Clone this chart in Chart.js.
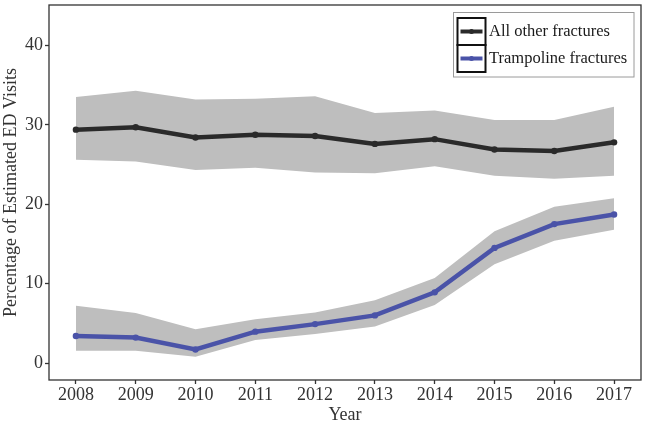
<!DOCTYPE html>
<html>
<head>
<meta charset="utf-8">
<script src="https://cdn.jsdelivr.net/npm/chart.js@4"></script>
<style>
  html, body { margin: 0; padding: 0; background: #fff; }
  #wrap { width: 646px; height: 426px; }
</style>
</head>
<body>
<div id="wrap"><canvas id="chart" width="646" height="426"></canvas></div>
<script>
// values
const years = [2008, 2009, 2010, 2011, 2012, 2013, 2014, 2015, 2016, 2017];
const allOther = [29.4, 29.7, 28.4, 28.75, 28.6, 27.6, 28.2, 26.9, 26.7, 27.8];
const allOtherHigh = [33.5, 34.3, 33.2, 33.3, 33.6, 31.5, 31.8, 30.6, 30.6, 32.3];
const allOtherLow = [25.6, 25.4, 24.3, 24.6, 24.0, 23.9, 24.8, 23.6, 23.2, 23.6];
const trampoline = [3.4, 3.2, 1.7, 3.95, 4.9, 6.0, 8.9, 14.5, 17.5, 18.7];
const trampolineHigh = [7.2, 6.3, 4.25, 5.5, 6.35, 7.9, 10.7, 16.6, 19.7, 20.75];
const trampolineLow = [1.55, 1.55, 0.8, 2.9, 3.65, 4.6, 7.3, 12.45, 15.4, 16.8];
const yTicks = [0, 10, 20, 30, 40];
const seriesNames = ["All other fractures", "Trampoline fractures"];

const black = "#2a2a2a";
const blue = "#4a53a8";
const band = "#bebebe";
const axisCol = "#333333";
const serif = "'Liberation Serif', 'Times New Roman', serif";

function pts(vals) {
  return years.map(function (yr, i) { return { x: yr, y: vals[i] }; });
}

function lineSet(label, vals, col) {
  return {
    label: label,
    data: pts(vals),
    borderColor: col,
    backgroundColor: col,
    borderWidth: 4.5,
    pointRadius: 3.2,
    pointBorderWidth: 0,
    fill: false,
    tension: 0
  };
}

function bandSet(vals, fillTo) {
  return {
    label: "",
    data: pts(vals),
    borderWidth: 0,
    borderColor: "rgba(0,0,0,0)",
    backgroundColor: band,
    pointRadius: 0,
    fill: fillTo,
    tension: 0
  };
}

// frame round the panel + legend with boxed keys
const framePlugin = {
  id: "frame",
  afterDraw: function (chart) {
    const ctx = chart.ctx;
    const a = chart.chartArea;
    ctx.save();
    ctx.strokeStyle = axisCol;
    ctx.lineWidth = 1.3;
    ctx.strokeRect(a.left, a.top, a.right - a.left, a.bottom - a.top);

    // legend
    const bx = 453.5, by = 12.5, bw = 180.5, bh = 64.5;
    ctx.fillStyle = "#fff";
    ctx.fillRect(bx, by, bw, bh);
    ctx.strokeStyle = "#9a9a9a";
    ctx.lineWidth = 1;
    ctx.strokeRect(bx, by, bw, bh);

    const kx = 457.5, ky = 18, kw = 28, kh = 27;
    const cols = [black, blue];
    for (let i = 0; i < 2; i++) {
      const top = ky + i * kh;
      ctx.strokeStyle = "#111";
      ctx.lineWidth = 2;
      ctx.strokeRect(kx, top, kw, kh);
      const cy = top + kh / 2;
      ctx.strokeStyle = cols[i];
      ctx.lineWidth = 4;
      ctx.beginPath();
      ctx.moveTo(kx + 3, cy);
      ctx.lineTo(kx + kw - 3, cy);
      ctx.stroke();
      ctx.fillStyle = cols[i];
      ctx.beginPath();
      ctx.arc(kx + kw / 2, cy, 2.5, 0, Math.PI * 2);
      ctx.fill();

      ctx.fillStyle = "#1a1a1a";
      ctx.font = "16.5px " + serif;
      ctx.textAlign = "left";
      ctx.textBaseline = "middle";
      ctx.fillText(seriesNames[i], 489, cy + 0.5);
    }
    ctx.restore();
  }
};

const ctx = document.getElementById("chart").getContext("2d");
const chart = new Chart(ctx, {
  type: "line",
  data: {
    datasets: [
      lineSet(seriesNames[0], allOther, black),
      lineSet(seriesNames[1], trampoline, blue),
      bandSet(allOtherHigh, "+1"),
      bandSet(allOtherLow, false),
      bandSet(trampolineHigh, "+1"),
      bandSet(trampolineLow, false)
    ]
  },
  options: {
    responsive: false,
    animation: false,
    layout: { padding: { top: 5, right: 5, left: 0, bottom: 0 } },
    plugins: {
      legend: { display: false },
      tooltip: { enabled: false }
    },
    scales: {
      x: {
        type: "linear",
        min: 2007.55,
        max: 2017.45,
        afterBuildTicks: function (scale) {
          scale.ticks = years.map(function (v) { return { value: v }; });
        },
        afterFit: function (scale) {
          scale.height = 46;
          scale.paddingLeft = 0;
          scale.paddingRight = 0;
        },
        ticks: {
          color: axisCol,
          font: { family: serif, size: 18 },
          padding: 0,
          maxRotation: 0,
          callback: function (v) { return String(v); }
        },
        grid: { display: true, drawOnChartArea: false, tickLength: 4, tickColor: axisCol, tickWidth: 1.3 },
        border: { display: false },
        title: {
          display: true,
          text: "Year",
          color: axisCol,
          font: { family: serif, size: 18 },
          padding: { top: 0, bottom: 0 }
        }
      },
      y: {
        type: "linear",
        min: -2.14,
        max: 45.1,
        afterBuildTicks: function (scale) {
          scale.ticks = yTicks.map(function (v) { return { value: v }; });
        },
        afterFit: function (scale) {
          scale.width = 49;
          scale.paddingTop = 0;
          scale.paddingBottom = 0;
        },
        ticks: {
          color: axisCol,
          font: { family: serif, size: 18 },
          padding: 2
        },
        grid: { display: true, drawOnChartArea: false, tickLength: 4, tickColor: axisCol, tickWidth: 1.3 },
        border: { display: false },
        title: {
          display: true,
          text: "Percentage of Estimated ED Visits",
          color: axisCol,
          font: { family: serif, size: 18 },
          padding: { top: 0, bottom: 0 }
        }
      }
    }
  },
  plugins: [framePlugin]
});
</script>
</body>
</html>
